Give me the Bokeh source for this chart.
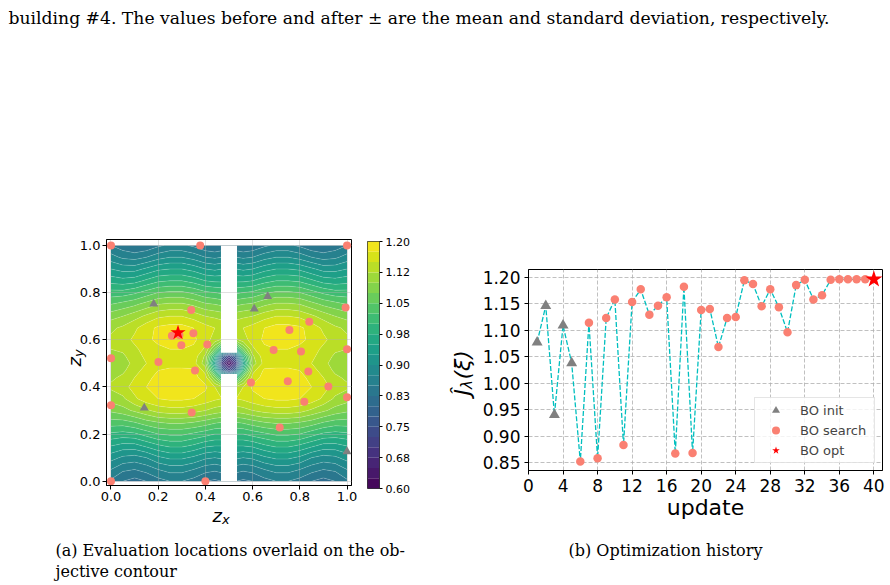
import numpy as np
from bokeh.plotting import figure
from bokeh.models import (Range1d, Label, FixedTicker, PrintfTickFormatter, Legend, LegendItem)
from bokeh.palettes import Viridis256
from bokeh.embed import file_html
from bokeh.resources import INLINE

# ---------------------------------------------------------------------------
# Objective field J(z) sampled on a rectilinear grid (left half of the domain,
# the right half is its mirror image about z_x = 0.5). Rows follow zy_nodes.
# ---------------------------------------------------------------------------
zx_nodes_left = [0.0, 0.05, 0.1, 0.15, 0.2, 0.25, 0.3, 0.35, 0.4, 0.44, 0.47, 0.5]
zy_nodes = [0.0, 0.05, 0.1, 0.15, 0.2, 0.25, 0.3, 0.35, 0.4, 0.44, 0.47, 0.5,
            0.53, 0.56, 0.6, 0.65, 0.7, 0.75, 0.8, 0.85, 0.9, 0.95, 1.0]
objective_left = [
    [0.845, 0.825, 0.815, 0.825, 0.840, 0.850, 0.850, 0.840, 0.825, 0.820, 0.825, 0.830],
    [0.875, 0.855, 0.850, 0.860, 0.875, 0.885, 0.885, 0.875, 0.860, 0.855, 0.860, 0.865],
    [0.910, 0.895, 0.890, 0.900, 0.920, 0.930, 0.930, 0.920, 0.905, 0.900, 0.905, 0.910],
    [0.950, 0.940, 0.940, 0.955, 0.970, 0.980, 0.980, 0.970, 0.955, 0.950, 0.950, 0.950],
    [0.995, 0.990, 0.995, 1.010, 1.025, 1.030, 1.030, 1.020, 1.010, 1.000, 1.000, 1.000],
    [1.040, 1.040, 1.050, 1.065, 1.075, 1.080, 1.080, 1.075, 1.065, 1.055, 1.050, 1.050],
    [1.080, 1.090, 1.105, 1.120, 1.135, 1.140, 1.140, 1.135, 1.125, 1.115, 1.110, 1.110],
    [1.110, 1.120, 1.145, 1.165, 1.175, 1.180, 1.180, 1.175, 1.165, 1.155, 1.150, 1.145],
    [1.130, 1.140, 1.160, 1.175, 1.185, 1.190, 1.190, 1.185, 1.180, 1.150, 1.130, 1.110],
    [1.120, 1.130, 1.150, 1.170, 1.180, 1.185, 1.185, 1.185, 1.160, 1.080, 0.990, 0.940],
    [1.110, 1.120, 1.140, 1.160, 1.175, 1.180, 1.180, 1.180, 1.140, 0.990, 0.810, 0.720],
    [1.100, 1.110, 1.135, 1.150, 1.160, 1.165, 1.165, 1.160, 1.110, 0.930, 0.710, 0.610],
    [1.110, 1.120, 1.140, 1.155, 1.165, 1.170, 1.170, 1.165, 1.120, 0.980, 0.800, 0.710],
    [1.125, 1.130, 1.145, 1.160, 1.170, 1.175, 1.175, 1.170, 1.145, 1.070, 0.980, 0.930],
    [1.130, 1.140, 1.155, 1.170, 1.180, 1.190, 1.190, 1.180, 1.160, 1.140, 1.120, 1.110],
    [1.120, 1.130, 1.145, 1.165, 1.180, 1.185, 1.185, 1.175, 1.160, 1.150, 1.145, 1.145],
    [1.090, 1.100, 1.115, 1.130, 1.145, 1.150, 1.150, 1.140, 1.125, 1.120, 1.115, 1.115],
    [1.050, 1.060, 1.070, 1.085, 1.100, 1.105, 1.105, 1.095, 1.080, 1.075, 1.070, 1.070],
    [1.010, 1.010, 1.020, 1.035, 1.050, 1.055, 1.055, 1.045, 1.030, 1.025, 1.020, 1.020],
    [0.965, 0.960, 0.965, 0.980, 0.995, 1.000, 1.000, 0.990, 0.975, 0.970, 0.970, 0.970],
    [0.925, 0.915, 0.915, 0.930, 0.945, 0.950, 0.950, 0.940, 0.925, 0.920, 0.925, 0.925],
    [0.885, 0.870, 0.865, 0.875, 0.890, 0.900, 0.900, 0.890, 0.875, 0.870, 0.875, 0.880],
    [0.850, 0.835, 0.825, 0.830, 0.845, 0.855, 0.855, 0.845, 0.830, 0.825, 0.830, 0.835],
]

# contour levels and colour bar ticks
contour_levels = [0.600, 0.625, 0.650, 0.675, 0.700, 0.725, 0.750, 0.775, 0.800,
                  0.825, 0.850, 0.875, 0.900, 0.925, 0.950, 0.975, 1.000, 1.025,
                  1.050, 1.075, 1.100, 1.125, 1.150, 1.175, 1.200]
cbar_ticks = [0.6, 0.675, 0.75, 0.825, 0.9, 0.975, 1.05, 1.125, 1.2]
cbar_tick_labels = ["0.60", "0.68", "0.75", "0.83", "0.90", "0.98", "1.05", "1.12", "1.20"]

# corridor without field, and the opening through it
corridor_zx = [0.466, 0.534]
opening_zy = [0.455, 0.545]
domain = [0.0, 1.0]

# evaluation locations
init_zx = [0.181, 0.141, 0.607, 0.664, 1.000]
init_zy = [0.752, 0.311, 0.731, 0.784, 0.126]
search_zx = [0.000, 0.378, 1.000, 0.340, 0.994, 0.840, 0.756, 0.258, 0.349, 0.298,
             0.408, 0.000, 0.201, 0.689, 0.805, 1.000, 0.356, 0.836, 0.593, 0.749,
             0.921, 1.000, 0.000, 0.342, 0.819, 0.715, 0.000, 0.400, 0.290]
search_zy = [1.000, 1.000, 1.000, 0.726, 0.737, 0.676, 0.641, 0.617, 0.627, 0.577,
             0.580, 0.522, 0.506, 0.556, 0.550, 0.560, 0.470, 0.465, 0.419, 0.424,
             0.402, 0.356, 0.322, 0.291, 0.337, 0.228, 0.000, 0.000, 0.620]
opt_zx = [0.284]
opt_zy = [0.630]

# optimisation history
updates = [1, 2, 3, 4, 5, 6, 7, 8, 9, 10, 11, 12, 13, 14, 15, 16, 17, 18, 19, 20,
           21, 22, 23, 24, 25, 26, 27, 28, 29, 30, 31, 32, 33, 34, 35, 36, 37, 38, 39, 40]
objective_hist = [1.077, 1.146, 0.940, 1.109, 1.038, 0.852, 1.114, 0.858, 1.123, 1.158,
                  0.883, 1.153, 1.177, 1.129, 1.146, 1.162, 0.867, 1.182, 0.868, 1.138,
                  1.140, 1.068, 1.123, 1.125, 1.194, 1.187, 1.145, 1.177, 1.143, 1.096,
                  1.185, 1.195, 1.158, 1.166, 1.195, 1.196, 1.196, 1.196, 1.196, 1.196]
n_init = 5
n_search = 34
hist_xticks = [0, 4, 8, 12, 16, 20, 24, 28, 32, 36, 40]
hist_yticks = [0.85, 0.90, 0.95, 1.00, 1.05, 1.10, 1.15, 1.20]
z_ticks = [0.0, 0.2, 0.4, 0.6, 0.8, 1.0]

header_text = ("building #4. The values before and after \u00b1 are the mean and "
               "standard deviation, respectively.")
caption_a = ["(a) Evaluation locations overlaid on the ob-", "jective contour"]
caption_b = "(b) Optimization history"

SANS = "DejaVu Sans"
SERIF = "DejaVu Serif"

# full grid: mirror the left half about z_x = 0.5
zx_nodes = zx_nodes_left + [round(1.0 - x, 3) for x in reversed(zx_nodes_left[:-1])]
field = np.array([r + r[-2::-1] for r in objective_left])

n_bands = len(contour_levels) - 1
band_colors = [Viridis256[int((i + 0.5) * 256 / n_bands)] for i in range(n_bands)]


def place(fig, left, top):
    fig.styles = {"position": "absolute", "left": f"{left}px", "top": f"{top}px"}


def style_axes(fig, size):
    fig.axis.major_label_text_font = SANS
    fig.axis.major_label_text_font_size = size
    fig.axis.major_label_text_color = "black"
    fig.axis.major_tick_in = 0
    fig.axis.major_tick_out = 4
    fig.axis.major_tick_line_color = "black"
    fig.axis.minor_tick_line_color = None
    fig.axis.axis_line_color = "black"


# ---------------------------------------------------------------- contour panel
p1 = figure(width=440, height=300, x_range=Range1d(-0.019, 1.019),
            y_range=Range1d(-0.018, 1.025), toolbar_location=None,
            output_backend="svg", min_border_left=106, min_border_right=89,
            min_border_top=9, min_border_bottom=45)
place(p1, 0, 230)

cr = p1.contour(np.array(zx_nodes), np.array(zy_nodes), field, contour_levels,
                fill_color=band_colors, line_color="white", line_alpha=0.35,
                line_width=0.5)
cr.level = "image"

strip = p1.quad(left=[corridor_zx[0], corridor_zx[0]], right=[corridor_zx[1], corridor_zx[1]],
                bottom=[domain[0], opening_zy[1]], top=[opening_zy[0], domain[1]],
                fill_color="white", line_color=None)
strip.level = "image"

p1.scatter(search_zx, search_zy, marker="circle", size=8, fill_color="salmon", line_color=None)
p1.scatter(init_zx, init_zy, marker="triangle", size=9, fill_color="gray", line_color=None)
p1.scatter(opt_zx, opt_zy, marker="star", size=16, fill_color="red", line_color=None)

p1.xaxis.ticker = FixedTicker(ticks=z_ticks)
p1.yaxis.ticker = FixedTicker(ticks=z_ticks)
p1.axis.formatter = PrintfTickFormatter(format="%.1f")
style_axes(p1, "13px")
p1.axis.major_label_standoff = 2
p1.outline_line_color = "black"
p1.outline_line_width = 1
p1.grid.grid_line_color = "#b0b0b0"
p1.grid.grid_line_dash = "1 1"
p1.grid.grid_line_width = 0.8

# ---------------------------------------------------------------- colour bar
cb = figure(width=70, height=300, x_range=Range1d(0, 1),
            y_range=Range1d(contour_levels[0], contour_levels[-1]),
            x_axis_type=None, y_axis_location="right", toolbar_location=None,
            output_backend="svg", min_border_left=16, min_border_right=42,
            min_border_top=11, min_border_bottom=42)
place(cb, 351, 230)
cb.quad(left=0, right=1, bottom=contour_levels[:-1], top=contour_levels[1:],
        fill_color=band_colors, line_color=None)
cb.grid.visible = False
cb.yaxis.ticker = FixedTicker(ticks=cbar_ticks)
cb.yaxis.major_label_overrides = dict(zip(cbar_ticks, cbar_tick_labels))
style_axes(cb, "11px")
cb.yaxis.major_tick_out = 3
cb.yaxis.axis_line_color = None
cb.yaxis.major_label_standoff = 3
cb.outline_line_color = "black"
cb.outline_line_width = 0.8
cb.border_fill_color = None
cb.background_fill_color = None

# ---------------------------------------------------------------- history panel
p2 = figure(width=450, height=300, x_range=Range1d(0, 41), y_range=Range1d(0.835, 1.2145),
            toolbar_location=None, output_backend="svg", min_border_left=88,
            min_border_right=8, min_border_top=39, min_border_bottom=60)
place(p2, 440, 230)

p2.line(updates, objective_hist, line_color="#00bfbf", line_dash="5 2", line_width=1.3)
r_init = p2.scatter(updates[:n_init], objective_hist[:n_init], marker="triangle", size=11,
                    fill_color="gray", line_color=None)
r_search = p2.scatter(updates[n_init:n_init + n_search], objective_hist[n_init:n_init + n_search],
                      marker="circle", size=8.5, fill_color="salmon", line_color=None)
r_opt = p2.scatter(updates[n_init + n_search:], objective_hist[n_init + n_search:],
                   marker="star", size=18, fill_color="red", line_color=None)

p2.xaxis.ticker = FixedTicker(ticks=hist_xticks)
p2.yaxis.ticker = FixedTicker(ticks=hist_yticks)
p2.yaxis.formatter = PrintfTickFormatter(format="%.2f")
style_axes(p2, "17px")
p2.axis.major_label_standoff = 4
p2.xaxis.axis_label = "update"
p2.xaxis.axis_label_text_font = SANS
p2.xaxis.axis_label_text_font_size = "22px"
p2.xaxis.axis_label_text_font_style = "normal"
p2.xaxis.axis_label_text_color = "black"
p2.xaxis.axis_label_standoff = 0
p2.outline_line_color = "black"
p2.outline_line_width = 1
p2.grid.grid_line_color = "#b0b0b0"
p2.grid.grid_line_dash = "4 2"
p2.grid.grid_line_width = 0.8

legend = Legend(items=[LegendItem(label="BO init", renderers=[r_init]),
                       LegendItem(label="BO search", renderers=[r_search]),
                       LegendItem(label="BO opt", renderers=[r_opt])],
                location="bottom_right", margin=7, padding=2, spacing=0,
                glyph_width=37, glyph_height=20, label_height=20, label_width=72,
                label_standoff=6, label_text_font=SANS, label_text_font_size="13px",
                border_line_color="#cccccc", border_line_width=1,
                background_fill_alpha=0.8)
p2.add_layout(legend)

# ---------------------------------------------------------------- page texts
page = figure(width=890, height=585, x_range=Range1d(0, 890), y_range=Range1d(585, 0),
              x_axis_type=None, y_axis_type=None, toolbar_location=None,
              output_backend="svg", min_border=0)
place(page, 0, 0)
page.outline_line_color = None
page.background_fill_color = None
page.border_fill_color = None


def text(x, y, s, font=SANS, size="16px", style="normal", angle=0):
    page.add_layout(Label(x=x, y=y, text=s, text_font=font, text_font_size=size,
                          text_font_style=style, text_color="black",
                          text_baseline="alphabetic", angle=angle, angle_units="deg"))


text(8, 17, header_text, font=SERIF, size="17.2px")
text(55, 550, caption_a[0], font=SERIF, size="16px")
text(55, 571, caption_a[1], font=SERIF, size="16px")
text(568, 550, caption_b, font=SERIF, size="16px")

# z_x below the contour panel, z_y beside it
text(212, 515, "z", size="18px", style="italic")
text(221.5, 518.5, "x", size="13px", style="italic")
text(74, 366, "z", size="18px", style="italic", angle=90)
text(77.5, 356.5, "y", size="13px", style="italic", angle=90)

# J-hat_lambda(xi) beside the history panel
text(462, 395, "\u0134", size="22px", style="italic", angle=90)
text(466, 388.5, "\u03bb", size="15px", style="italic", angle=90)
text(462, 379, "(\u03be)", size="22px", style="italic", angle=90)

open("out.html", "w").write(file_html([p1, cb, p2, page], INLINE))
